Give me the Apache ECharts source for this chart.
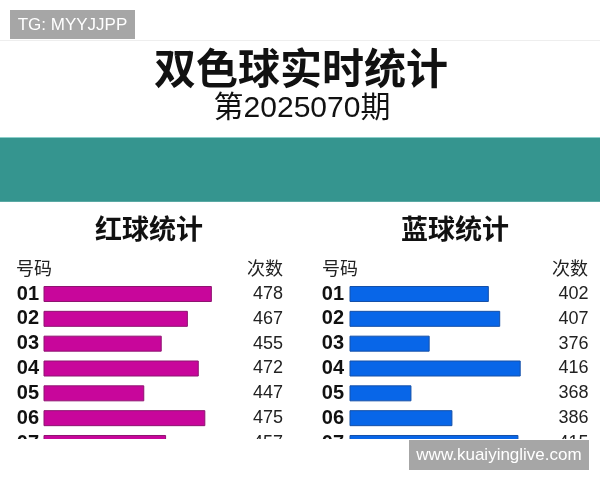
<!DOCTYPE html>
<html>
<head>
<meta charset="utf-8">
<script src="https://cdn.jsdelivr.net/npm/echarts@6/dist/echarts.min.js"></script>
<style>html,body{margin:0;padding:0;background:#fff}#c{width:600px;height:480px}</style>
</head>
<body>
<div id="c"></div>
<script>
const redNumbers = ['01','02','03','04','05','06','07'];
const redCounts = [478,467,455,472,447,475,457];
const blueNumbers = ['01','02','03','04','05','06','07'];
const blueCounts = [402,407,376,416,368,386,415];

const FONT = '"Liberation Sans", "Noto Sans CJK SC", sans-serif';
const CJK = '"Liberation Sans", "Noto Sans CJK SC", sans-serif';
const chart = echarts.init(document.getElementById('c'), null, {renderer:'canvas'});

function catAxis(grid, data, pos, margin, style) {
  return {
    type:'category', gridIndex:grid, data:data, inverse:true, position:pos,
    axisLine:{show:false}, axisTick:{show:false}, splitLine:{show:false},
    axisLabel:Object.assign({margin:margin, interval:0, fontFamily:FONT}, style)
  };
}
const numStyle = {fontSize:20, fontWeight:'bold', color:'#111'};
const valStyle = {fontSize:18, color:'#222', align:'right'};

const option = {
  backgroundColor:'#fff',
  animation:false,
  grid:[
    {left:44, width:218, top:281.6, height:173.8},
    {left:350, width:227.6, top:281.6, height:173.8}
  ],
  xAxis:[
    {type:'value', gridIndex:0, min:401, max:501, show:false},
    {type:'value', gridIndex:1, min:341, max:441, show:false}
  ],
  yAxis:[
    catAxis(0, redNumbers, 'left', 5, numStyle),
    catAxis(0, redCounts.map(String), 'right', 21, valStyle),
    catAxis(1, blueNumbers, 'left', 6, numStyle),
    catAxis(1, blueCounts.map(String), 'right', 11, valStyle)
  ],
  series:[
    {type:'bar', xAxisIndex:0, yAxisIndex:0, data:redCounts, barWidth:16,
     itemStyle:{color:'#c8069b', borderColor:'#8e1470', borderWidth:1}},
    {type:'bar', xAxisIndex:1, yAxisIndex:2, data:blueCounts, barWidth:16,
     itemStyle:{color:'#0866e8', borderColor:'#1550a8', borderWidth:1}}
  ],
  graphic:[
    {type:'rect', shape:{x:10,y:10,width:125,height:29}, style:{fill:'#a6a6a6'}, z:50},
    {type:'text', x:72.5, y:25, z:51, style:{text:'TG: MYYJJPP', fill:'#fff', font:'17px "Liberation Sans", Arial, sans-serif', textAlign:'center', textVerticalAlign:'middle'}},
    {type:'line', shape:{x1:0,y1:40.5,x2:600,y2:40.5}, style:{stroke:'#eeeeee', lineWidth:1}, z:1},
    {type:'text', x:301, y:68, z:5, style:{text:'双色球实时统计', fill:'#111', font:'bold 42px "Noto Sans CJK SC"', textAlign:'center', textVerticalAlign:'middle'}},
    {type:'text', x:302, y:109, z:5, style:{text:'第2025070期', fill:'#111', font:'30px ' + CJK, textAlign:'center', textVerticalAlign:'middle'}},
    {type:'rect', shape:{x:0,y:137,width:600,height:65}, style:{fill:'#35958f'}, z:1},
    {type:'line', shape:{x1:0,y1:137.5,x2:600,y2:137.5}, style:{stroke:'#8ccfca', lineWidth:1}, z:2},
    {type:'line', shape:{x1:0,y1:201.5,x2:600,y2:201.5}, style:{stroke:'#5aa9a4', lineWidth:1}, z:2},
    {type:'text', x:149, y:229, z:5, style:{text:'红球统计', fill:'#111', font:'bold 27px "Noto Sans CJK SC"', textAlign:'center', textVerticalAlign:'middle'}},
    {type:'text', x:455, y:229, z:5, style:{text:'蓝球统计', fill:'#111', font:'bold 27px "Noto Sans CJK SC"', textAlign:'center', textVerticalAlign:'middle'}},
    {type:'text', x:16, y:268, z:5, style:{text:'号码', fill:'#222', font:'18px "Noto Sans CJK SC"', textAlign:'left', textVerticalAlign:'middle'}},
    {type:'text', x:283, y:268, z:5, style:{text:'次数', fill:'#222', font:'18px "Noto Sans CJK SC"', textAlign:'right', textVerticalAlign:'middle'}},
    {type:'text', x:322, y:268, z:5, style:{text:'号码', fill:'#222', font:'18px "Noto Sans CJK SC"', textAlign:'left', textVerticalAlign:'middle'}},
    {type:'text', x:588, y:268, z:5, style:{text:'次数', fill:'#222', font:'18px "Noto Sans CJK SC"', textAlign:'right', textVerticalAlign:'middle'}},
    {type:'rect', shape:{x:0,y:439,width:600,height:41}, style:{fill:'#ffffff'}, z:100},
    {type:'rect', shape:{x:409,y:440,width:180,height:30}, style:{fill:'#a6a6a6'}, z:101},
    {type:'text', x:499, y:455, z:102, style:{text:'www.kuaiyinglive.com', fill:'#fff', font:'17px "Liberation Sans", Arial, sans-serif', textAlign:'center', textVerticalAlign:'middle'}}
  ]
};
chart.setOption(option);
</script>
</body>
</html>
